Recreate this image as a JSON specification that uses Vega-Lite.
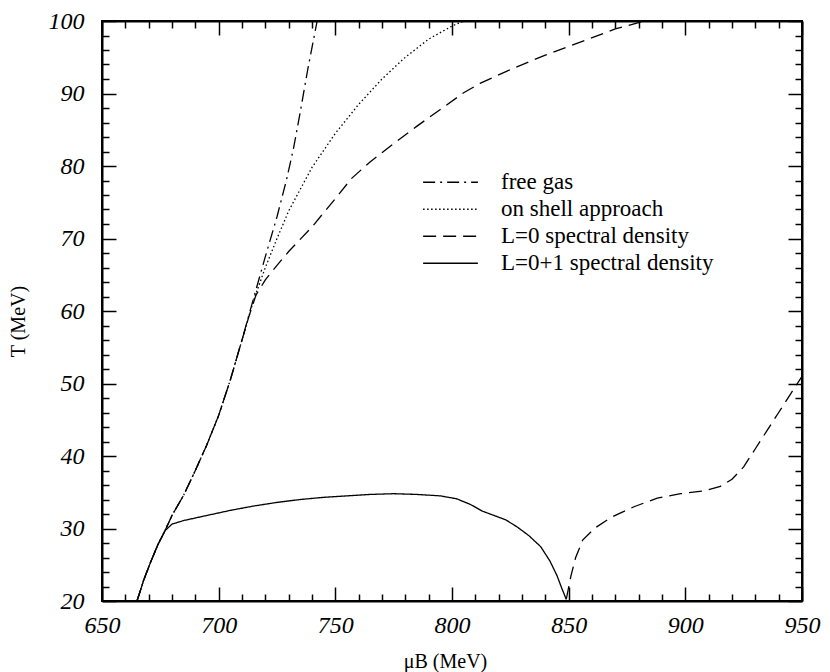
{
  "$schema": "https://vega.github.io/schema/vega-lite/v6.json",
  "width": 700,
  "height": 580,
  "autosize": "none",
  "padding": {"left": 102, "top": 21, "right": 28, "bottom": 71},
  "background": "white",
  "config": {
    "view": {"stroke": "black", "strokeWidth": 2},
    "axis": {
      "domainColor": "black", "domainWidth": 2, "tickColor": "black", "tickWidth": 1.5,
      "grid": false, "labelFont": "Liberation Serif", "labelFontStyle": "italic",
      "labelFontSize": 24, "labelColor": "black", "titleFont": "Liberation Serif",
      "titleFontSize": 20, "titleFontWeight": "normal", "titleColor": "black"
    }
  },
  "data": {"values": [
    {"series":"free gas","branch":"fg","mu":665,"T":20},{"series":"free gas","branch":"fg","mu":668,"T":23},{"series":"free gas","branch":"fg","mu":671,"T":25.5},{"series":"free gas","branch":"fg","mu":674,"T":27.8},{"series":"free gas","branch":"fg","mu":677,"T":29.7},{"series":"free gas","branch":"fg","mu":680,"T":31.8},{"series":"free gas","branch":"fg","mu":685,"T":34.6},{"series":"free gas","branch":"fg","mu":690,"T":38},{"series":"free gas","branch":"fg","mu":695,"T":41.6},{"series":"free gas","branch":"fg","mu":700,"T":45.6},{"series":"free gas","branch":"fg","mu":705,"T":50.5},{"series":"free gas","branch":"fg","mu":710,"T":56},{"series":"free gas","branch":"fg","mu":715,"T":61.8},{"series":"free gas","branch":"fg","mu":720,"T":67.5},{"series":"free gas","branch":"fg","mu":725,"T":73},{"series":"free gas","branch":"fg","mu":729,"T":78},{"series":"free gas","branch":"fg","mu":732,"T":82.3},{"series":"free gas","branch":"fg","mu":735,"T":87.5},{"series":"free gas","branch":"fg","mu":738,"T":93},{"series":"free gas","branch":"fg","mu":741,"T":98},{"series":"free gas","branch":"fg","mu":742.5,"T":100.5},
    {"series":"on shell approach","branch":"os","mu":665,"T":20},{"series":"on shell approach","branch":"os","mu":668,"T":23},{"series":"on shell approach","branch":"os","mu":671,"T":25.5},{"series":"on shell approach","branch":"os","mu":674,"T":27.8},{"series":"on shell approach","branch":"os","mu":677,"T":29.7},{"series":"on shell approach","branch":"os","mu":680,"T":31.8},{"series":"on shell approach","branch":"os","mu":685,"T":34.6},{"series":"on shell approach","branch":"os","mu":690,"T":38},{"series":"on shell approach","branch":"os","mu":695,"T":41.6},{"series":"on shell approach","branch":"os","mu":700,"T":45.6},{"series":"on shell approach","branch":"os","mu":705,"T":50.5},{"series":"on shell approach","branch":"os","mu":710,"T":56},{"series":"on shell approach","branch":"os","mu":715,"T":61.5},{"series":"on shell approach","branch":"os","mu":720,"T":66},{"series":"on shell approach","branch":"os","mu":725,"T":70},{"series":"on shell approach","branch":"os","mu":730,"T":73.8},{"series":"on shell approach","branch":"os","mu":740,"T":79.8},{"series":"on shell approach","branch":"os","mu":750,"T":84.5},{"series":"on shell approach","branch":"os","mu":760,"T":88.5},{"series":"on shell approach","branch":"os","mu":770,"T":92},{"series":"on shell approach","branch":"os","mu":780,"T":95},{"series":"on shell approach","branch":"os","mu":790,"T":97.5},{"series":"on shell approach","branch":"os","mu":800,"T":99.3},{"series":"on shell approach","branch":"os","mu":808,"T":100.4},
    {"series":"L=0 spectral density","branch":"l0a","mu":665,"T":20},{"series":"L=0 spectral density","branch":"l0a","mu":668,"T":23},{"series":"L=0 spectral density","branch":"l0a","mu":671,"T":25.5},{"series":"L=0 spectral density","branch":"l0a","mu":674,"T":27.8},{"series":"L=0 spectral density","branch":"l0a","mu":677,"T":29.7},{"series":"L=0 spectral density","branch":"l0a","mu":680,"T":31.8},{"series":"L=0 spectral density","branch":"l0a","mu":685,"T":34.6},{"series":"L=0 spectral density","branch":"l0a","mu":690,"T":38},{"series":"L=0 spectral density","branch":"l0a","mu":695,"T":41.6},{"series":"L=0 spectral density","branch":"l0a","mu":700,"T":45.6},{"series":"L=0 spectral density","branch":"l0a","mu":705,"T":50.5},{"series":"L=0 spectral density","branch":"l0a","mu":710,"T":56},{"series":"L=0 spectral density","branch":"l0a","mu":713,"T":59.3},{"series":"L=0 spectral density","branch":"l0a","mu":716,"T":62.2},{"series":"L=0 spectral density","branch":"l0a","mu":720,"T":64.3},{"series":"L=0 spectral density","branch":"l0a","mu":725,"T":66.3},{"series":"L=0 spectral density","branch":"l0a","mu":730,"T":68.2},{"series":"L=0 spectral density","branch":"l0a","mu":740,"T":71.6},{"series":"L=0 spectral density","branch":"l0a","mu":750,"T":75.5},{"series":"L=0 spectral density","branch":"l0a","mu":757,"T":78.3},{"series":"L=0 spectral density","branch":"l0a","mu":765,"T":80.6},{"series":"L=0 spectral density","branch":"l0a","mu":775,"T":83.1},{"series":"L=0 spectral density","branch":"l0a","mu":785,"T":85.5},{"series":"L=0 spectral density","branch":"l0a","mu":795,"T":87.8},{"series":"L=0 spectral density","branch":"l0a","mu":805,"T":90.1},{"series":"L=0 spectral density","branch":"l0a","mu":812,"T":91.4},{"series":"L=0 spectral density","branch":"l0a","mu":825,"T":93.3},{"series":"L=0 spectral density","branch":"l0a","mu":840,"T":95.3},{"series":"L=0 spectral density","branch":"l0a","mu":855,"T":97.1},{"series":"L=0 spectral density","branch":"l0a","mu":870,"T":98.9},{"series":"L=0 spectral density","branch":"l0a","mu":889,"T":100.6},
    {"series":"L=0 spectral density","branch":"l0b","mu":849,"T":20.3},{"series":"L=0 spectral density","branch":"l0b","mu":851,"T":23.5},{"series":"L=0 spectral density","branch":"l0b","mu":853,"T":26},{"series":"L=0 spectral density","branch":"l0b","mu":856,"T":28.4},{"series":"L=0 spectral density","branch":"l0b","mu":861,"T":30},{"series":"L=0 spectral density","branch":"l0b","mu":868,"T":31.5},{"series":"L=0 spectral density","branch":"l0b","mu":878,"T":33},{"series":"L=0 spectral density","branch":"l0b","mu":888,"T":34.2},{"series":"L=0 spectral density","branch":"l0b","mu":898,"T":34.8},{"series":"L=0 spectral density","branch":"l0b","mu":908,"T":35.2},{"series":"L=0 spectral density","branch":"l0b","mu":915,"T":35.8},{"series":"L=0 spectral density","branch":"l0b","mu":920,"T":36.8},{"series":"L=0 spectral density","branch":"l0b","mu":925,"T":38.5},{"series":"L=0 spectral density","branch":"l0b","mu":930,"T":41},{"series":"L=0 spectral density","branch":"l0b","mu":935,"T":43.5},{"series":"L=0 spectral density","branch":"l0b","mu":940,"T":46},{"series":"L=0 spectral density","branch":"l0b","mu":945,"T":48.5},{"series":"L=0 spectral density","branch":"l0b","mu":950,"T":51},
    {"series":"L=0+1 spectral density","branch":"l01","mu":665,"T":20},{"series":"L=0+1 spectral density","branch":"l01","mu":668,"T":23},{"series":"L=0+1 spectral density","branch":"l01","mu":671,"T":25.5},{"series":"L=0+1 spectral density","branch":"l01","mu":674,"T":27.8},{"series":"L=0+1 spectral density","branch":"l01","mu":677,"T":29.7},{"series":"L=0+1 spectral density","branch":"l01","mu":680,"T":30.6},{"series":"L=0+1 spectral density","branch":"l01","mu":685,"T":31.1},{"series":"L=0+1 spectral density","branch":"l01","mu":695,"T":31.8},{"series":"L=0+1 spectral density","branch":"l01","mu":705,"T":32.5},{"series":"L=0+1 spectral density","branch":"l01","mu":715,"T":33.1},{"series":"L=0+1 spectral density","branch":"l01","mu":725,"T":33.6},{"series":"L=0+1 spectral density","branch":"l01","mu":735,"T":34.0},{"series":"L=0+1 spectral density","branch":"l01","mu":745,"T":34.3},{"series":"L=0+1 spectral density","branch":"l01","mu":755,"T":34.5},{"series":"L=0+1 spectral density","branch":"l01","mu":765,"T":34.7},{"series":"L=0+1 spectral density","branch":"l01","mu":775,"T":34.8},{"series":"L=0+1 spectral density","branch":"l01","mu":785,"T":34.7},{"series":"L=0+1 spectral density","branch":"l01","mu":795,"T":34.5},{"series":"L=0+1 spectral density","branch":"l01","mu":802,"T":34.1},{"series":"L=0+1 spectral density","branch":"l01","mu":808,"T":33.3},{"series":"L=0+1 spectral density","branch":"l01","mu":813,"T":32.4},{"series":"L=0+1 spectral density","branch":"l01","mu":818,"T":31.8},{"series":"L=0+1 spectral density","branch":"l01","mu":823,"T":31.2},{"series":"L=0+1 spectral density","branch":"l01","mu":828,"T":30.2},{"series":"L=0+1 spectral density","branch":"l01","mu":833,"T":29.0},{"series":"L=0+1 spectral density","branch":"l01","mu":838,"T":27.5},{"series":"L=0+1 spectral density","branch":"l01","mu":842,"T":25.5},{"series":"L=0+1 spectral density","branch":"l01","mu":845,"T":23.5},{"series":"L=0+1 spectral density","branch":"l01","mu":847,"T":21.8},{"series":"L=0+1 spectral density","branch":"l01","mu":849,"T":20.2}
  ]},
  "layer": [
    {
      "mark": {"type": "line", "clip": true, "color": "black"},
      "encoding": {
        "x": {"field": "mu", "type": "quantitative", "scale": {"domain": [650, 950], "nice": false},
          "axis": {"orient": "bottom", "title": "μB (MeV)", "values": [650,660,670,680,690,700,710,720,730,740,750,760,770,780,790,800,810,820,830,840,850,860,870,880,890,900,910,920,930,940,950],
            "labelExpr": "datum.value % 50 === 0 ? datum.label : ''",
            "tickSize": {"condition": {"test": "datum.value % 50 === 0", "value": -14}, "value": -7},
            "labelPadding": 26, "labelFlush": false, "labelOverlap": false, "titleX": 343, "titleY": 60, "titleBaseline": "middle"}},
        "y": {"field": "T", "type": "quantitative", "scale": {"domain": [20, 100], "nice": false},
          "axis": {"orient": "left", "title": "T (MeV)", "values": [20,22,24,26,28,30,32,34,36,38,40,42,44,46,48,50,52,54,56,58,60,62,64,66,68,70,72,74,76,78,80,82,84,86,88,90,92,94,96,98,100],
            "labelExpr": "datum.value % 10 === 0 ? datum.label : ''",
            "tickSize": {"condition": {"test": "datum.value % 10 === 0", "value": -14}, "value": -7},
            "labelPadding": 32, "labelOverlap": false, "labelFlush": false, "titleX": -84, "titleY": 300, "titleBaseline": "middle"}},
        "detail": {"field": "branch"},
        "strokeDash": {"field": "series", "type": "nominal",
          "scale": {"domain": ["free gas", "on shell approach", "L=0 spectral density", "L=0+1 spectral density"],
            "range": [[12,5,2,5],[1.5,2.5],[13,7],[1,0]]},
          "legend": {"orient": "none", "legendX": 320, "legendY": 148, "title": null, "symbolType": "stroke",
            "symbolSize": 3000, "clipHeight": 26.5, "rowPadding": 0, "symbolStrokeColor": "black", "labelFont": "Liberation Serif", "labelFontSize": 23,
            "labelColor": "black", "labelOffset": 22, "labelLimit": 0}},
        "strokeWidth": {"field": "series", "type": "nominal",
          "scale": {"domain": ["free gas", "on shell approach", "L=0 spectral density", "L=0+1 spectral density"],
            "range": [1.3, 1.3, 1.5, 2.6]},
          "legend": {"orient": "none", "legendX": 320, "legendY": 148, "title": null, "symbolType": "stroke",
            "symbolSize": 3000, "clipHeight": 26.5, "rowPadding": 0, "symbolStrokeColor": "black", "labelFont": "Liberation Serif", "labelFontSize": 23,
            "labelColor": "black", "labelOffset": 22, "labelLimit": 0}}
      }
    },
    {
      "mark": {"type": "line", "opacity": 0},
      "encoding": {
        "x": {"field": "mu", "type": "quantitative",
          "axis": {"orient": "top", "title": null, "labels": false, "values": [650,660,670,680,690,700,710,720,730,740,750,760,770,780,790,800,810,820,830,840,850,860,870,880,890,900,910,920,930,940,950],
            "tickSize": {"condition": {"test": "datum.value % 50 === 0", "value": -14}, "value": -7}}},
        "y": {"field": "T", "type": "quantitative",
          "axis": {"orient": "right", "title": null, "labels": false, "values": [20,22,24,26,28,30,32,34,36,38,40,42,44,46,48,50,52,54,56,58,60,62,64,66,68,70,72,74,76,78,80,82,84,86,88,90,92,94,96,98,100],
            "tickSize": {"condition": {"test": "datum.value % 10 === 0", "value": -14}, "value": -7}}},
        "detail": {"field": "branch"}
      }
    }
  ],
  "resolve": {"axis": {"x": "independent", "y": "independent"}}
}
